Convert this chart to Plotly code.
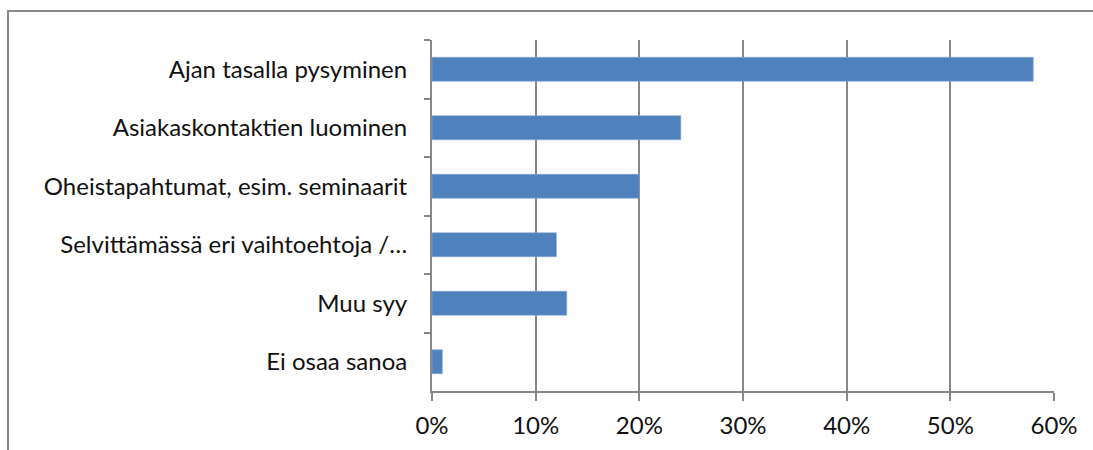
import plotly.graph_objects as go

categories = [
    "Ajan tasalla pysyminen",
    "Asiakaskontaktien luominen",
    "Oheistapahtumat, esim. seminaarit",
    "Selvittämässä eri vaihtoehtoja /…",
    "Muu syy",
    "Ei osaa sanoa",
]
values = [0.58, 0.24, 0.20, 0.12, 0.13, 0.01]
x_ticks = [0, 0.1, 0.2, 0.3, 0.4, 0.5, 0.6]
x_tick_labels = ["0%", "10%", "20%", "30%", "40%", "50%", "60%"]

W, H = 1093, 450
L, R, T, B = 432, 39, 40, 59
pw, ph = W - L - R, H - T - B
grid = "#868686"

fig = go.Figure(go.Bar(
    y=categories, x=values, orientation="h",
    marker=dict(color="#4F81BD", line=dict(color="#8AAAD4", width=0.6)),
    width=0.41,
))

def px_to_paper_x(px):
    return (px - L) / pw

def px_to_paper_y(py):
    return 1 - (py - T) / ph

fig.update_layout(
    width=W, height=H,
    margin=dict(l=L, r=R, t=T, b=B, autoexpand=False),
    paper_bgcolor="white", plot_bgcolor="white",
    font=dict(family="Lato, 'Open Sans', sans-serif", size=24, color="#111111"),
    showlegend=False,
    xaxis=dict(
        range=[0, 0.6], tickvals=x_ticks, ticktext=x_tick_labels,
        showgrid=True, gridcolor=grid, gridwidth=2,
        showline=True, linecolor=grid, linewidth=2,
        ticks="outside", ticklen=8, tickcolor=grid, tickwidth=2,
        zeroline=False, fixedrange=True, ticklabelstandoff=4,
    ),
    yaxis=dict(
        autorange="reversed", tickson="boundaries",
        showline=True, linecolor=grid, linewidth=2,
        ticks="outside", ticklen=6, tickcolor=grid, tickwidth=2,
        showgrid=False, ticklabelstandoff=18, fixedrange=True,
    ),
    shapes=[
        dict(type="line", xref="paper", yref="paper",
             x0=px_to_paper_x(8), x1=px_to_paper_x(8),
             y0=px_to_paper_y(11), y1=px_to_paper_y(452),
             line=dict(color="#8A8A8A", width=2)),
        dict(type="line", xref="paper", yref="paper",
             x0=px_to_paper_x(7), x1=px_to_paper_x(1095),
             y0=px_to_paper_y(11), y1=px_to_paper_y(11),
             line=dict(color="#8A8A8A", width=2)),
    ],
)

fig.write_html("out.html", config={"displayModeBar": False},
               post_script="document.body.style.margin='0';")
